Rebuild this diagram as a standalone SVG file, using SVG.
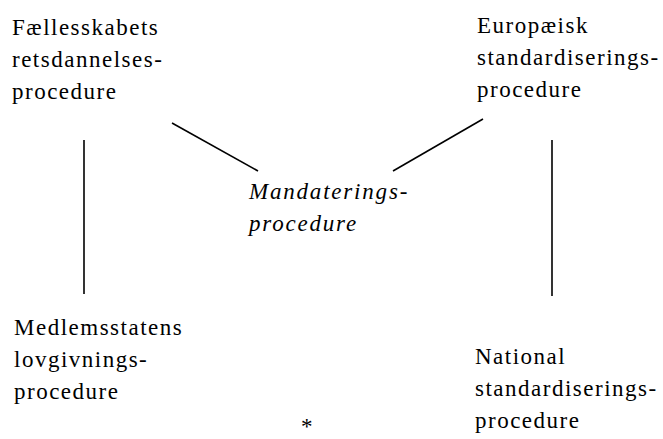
<svg xmlns="http://www.w3.org/2000/svg" width="663" height="439" viewBox="0 0 663 439">
  <style>
    .t { font-family: "Liberation Serif", "Times New Roman", serif; font-size: 23px; letter-spacing: 1.5px; fill: #000; }
    .i { font-style: italic; letter-spacing: 1.8px; }
    .c { stroke: #000; stroke-width: 1.6; fill: none; }
  </style>
  <rect width="663" height="439" fill="#fff"/>
  <g id="connectors">
    <line class="c" x1="172" y1="123" x2="258" y2="171"/>
    <line class="c" x1="393" y1="171" x2="483" y2="119"/>
    <line class="c" x1="84" y1="140" x2="84" y2="294"/>
    <line class="c" x1="552" y1="140" x2="552" y2="296"/>
  </g>
  <g id="node-faellesskab">
    <text class="t" x="12" y="35">Fællesskabets</text>
    <text class="t" x="12" y="67">retsdannelses-</text>
    <text class="t" x="12" y="99">procedure</text>
  </g>
  <g id="node-europaeisk">
    <text class="t" x="477" y="33">Europæisk</text>
    <text class="t" x="477" y="65">standardiserings-</text>
    <text class="t" x="477" y="97">procedure</text>
  </g>
  <g id="node-mandatering">
    <text class="t i" x="249" y="199">Mandaterings-</text>
    <text class="t i" x="249" y="231">procedure</text>
  </g>
  <g id="node-medlemsstat">
    <text class="t" x="14" y="335">Medlemsstatens</text>
    <text class="t" x="14" y="367">lovgivnings-</text>
    <text class="t" x="14" y="399">procedure</text>
  </g>
  <g id="node-national">
    <text class="t" x="475" y="364">National</text>
    <text class="t" x="475" y="396">standardiserings-</text>
    <text class="t" x="475" y="428">procedure</text>
  </g>
  <g id="footnote">
    <text class="t" x="301" y="434">*</text>
  </g>
</svg>
